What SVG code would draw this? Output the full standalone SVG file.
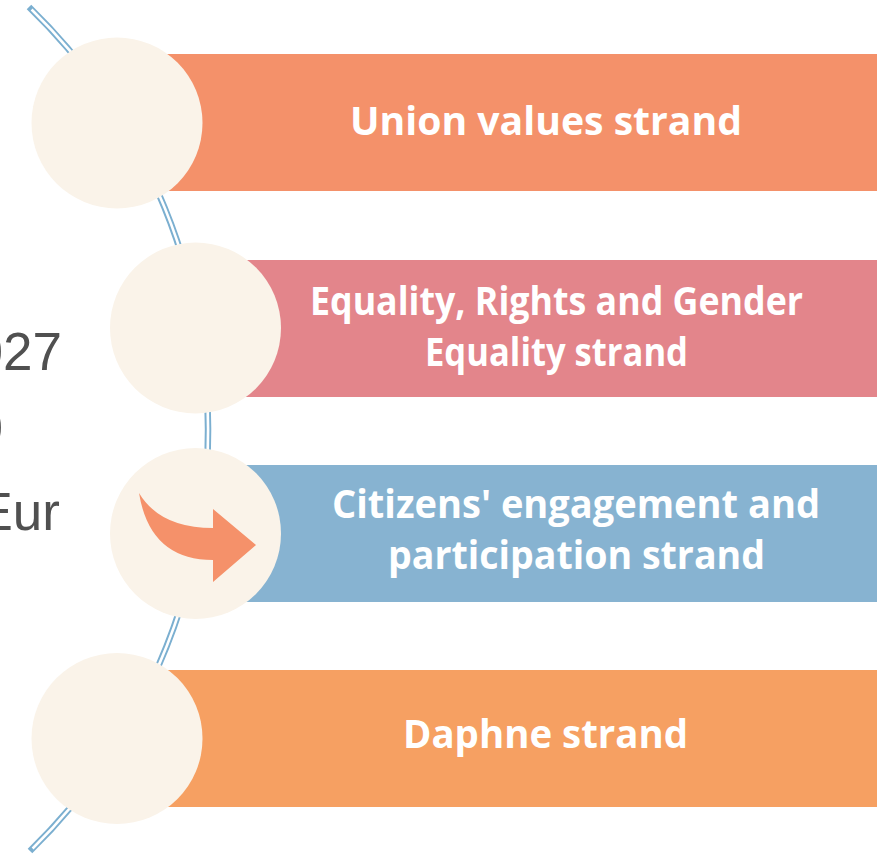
<svg xmlns="http://www.w3.org/2000/svg" width="892" height="854" viewBox="0 0 892 854">
<style>
.bar-text{font-family:"Open Sans","DejaVu Sans",sans-serif;font-weight:700;font-size:40px;fill:#FFFFFF;text-anchor:middle}
.side{font-family:"Liberation Sans",Arial,sans-serif;font-size:53px;fill:#505050;text-anchor:end}
.disc{fill:#FAF3E9}
</style>
<rect width="892" height="854" fill="#FFFFFF"/>
<g id="side-text">
<text class="side" x="62" y="370">027</text>
<text class="side" x="3" y="446">0</text>
<text class="side" x="60" y="530">Eur</text>
</g>
<g id="connectors">
<path d="M29,7 A588,588 0 0 1 30,851" fill="none" stroke="#7BAFD0" stroke-width="6.5"/>
<path d="M31.6,9.5 A588,588 0 0 1 32.6,848.5" fill="none" stroke="#FFFFFF" stroke-width="2.6"/>
</g>
<g id="node-union">
<rect x="160" y="54" width="717" height="137" fill="#F4916A"/>
<circle class="disc" cx="117" cy="123" r="85.5"/>
<text class="bar-text" x="546" y="135" textLength="392" lengthAdjust="spacingAndGlyphs">Union values strand</text>
</g>
<g id="node-equality">
<rect x="240" y="260" width="637" height="137" fill="#E3858B"/>
<circle class="disc" cx="195.5" cy="328" r="85.5"/>
<text class="bar-text" x="556.5" y="315" textLength="493" lengthAdjust="spacingAndGlyphs">Equality, Rights and Gender</text>
<text class="bar-text" x="556.5" y="366" textLength="263" lengthAdjust="spacingAndGlyphs">Equality strand</text>
</g>
<g id="node-citizens">
<rect x="240" y="465" width="637" height="137" fill="#87B3D1"/>
<circle class="disc" cx="195.5" cy="533.5" r="85.5"/>
<path d="M139,493 Q160,528 213,528 L213,509 L256,545 L213,582 L213,560 Q150,560 139,493 Z" fill="#F5916A"/>
<text class="bar-text" x="576" y="518" textLength="488" lengthAdjust="spacingAndGlyphs">Citizens' engagement and</text>
<text class="bar-text" x="576.5" y="569" textLength="377" lengthAdjust="spacingAndGlyphs">participation strand</text>
</g>
<g id="node-daphne">
<rect x="160" y="670" width="717" height="137" fill="#F6A062"/>
<circle class="disc" cx="117" cy="738.5" r="85.5"/>
<text class="bar-text" x="545.5" y="748" textLength="285" lengthAdjust="spacingAndGlyphs">Daphne strand</text>
</g>
</svg>
